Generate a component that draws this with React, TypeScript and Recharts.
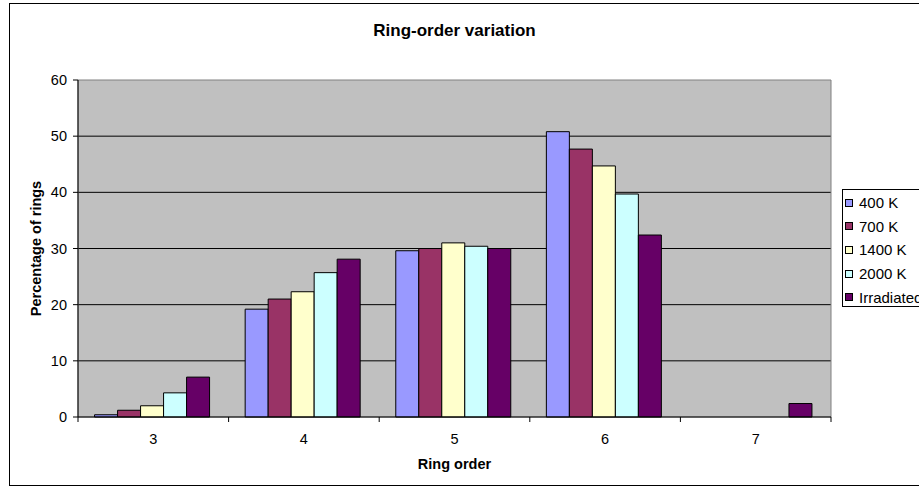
import React from 'react';
import { BarChart, Bar, XAxis, YAxis, CartesianGrid, ReferenceArea } from 'recharts';

const ringOrders = ['3', '4', '5', '6', '7'];
const k400 = [0.4, 19.2, 29.6, 50.8, 0];
const k700 = [1.2, 21.0, 30.0, 47.7, 0];
const k1400 = [2.0, 22.3, 31.0, 44.7, 0];
const k2000 = [4.3, 25.7, 30.4, 39.7, 0];
const irradiated = [7.1, 28.1, 30.0, 32.4, 2.4];
const yTicks = [0, 10, 20, 30, 40, 50, 60];

const series = [
  { key: 'k400', name: '400 K', color: '#9999FF', values: k400 },
  { key: 'k700', name: '700 K', color: '#993366', values: k700 },
  { key: 'k1400', name: '1400 K', color: '#FFFFCC', values: k1400 },
  { key: 'k2000', name: '2000 K', color: '#CCFFFF', values: k2000 },
  { key: 'irr', name: 'Irradiated', color: '#660066', values: irradiated },
];

const data = ringOrders.map((order, i) => {
  const row: Record<string, string | number> = { order };
  series.forEach(s => { row[s.key] = s.values[i]; });
  return row;
});

const FONT = 'Arial, "Liberation Sans", sans-serif';
const TICK_MARGIN = 17;

// category label plus Excel-style tick marks on the band edges
const EdgeTick = (props: any) => {
  const { x, y, payload, index, visibleTicksCount } = props;
  const half = payload.offset ?? 75;
  const axisY = y - TICK_MARGIN;
  const last = index === visibleTicksCount - 1;
  return (
    <g>
      <line x1={x - half} x2={x - half} y1={axisY} y2={axisY + 5} stroke="#000" />
      {last && <line x1={x + half} x2={x + half} y1={axisY} y2={axisY + 5} stroke="#000" />}
      <text x={x} y={y} dy="0.71em" textAnchor="middle" fontSize={14.5} fontFamily={FONT} fill="#000">
        {payload.value}
      </text>
    </g>
  );
};

// legend box sits to the right of the plot, running off the frame edge
const LegendBox = () => (
  <div style={{ position: 'absolute', left: 842, top: 189, width: 90, height: 118, border: '1px solid #000', background: '#fff', boxSizing: 'border-box', padding: '1px 0 0 2px', fontFamily: FONT, fontSize: 15 }}>
    {series.map(s => (
      <div key={s.key} style={{ display: 'flex', alignItems: 'center', height: 23.6, whiteSpace: 'nowrap' }}>
        <span style={{ display: 'inline-block', width: 6, height: 6, border: '1px solid #000', background: s.color, marginRight: 6 }} />
        <span>{s.name}</span>
      </div>
    ))}
  </div>
);

export default function App() {
  return (
    <div style={{ position: 'absolute', left: 0, top: 0, width: 919, height: 488, background: '#fff', overflow: 'hidden' }}>
      <div style={{ position: 'absolute', left: 9, top: 3, width: 930, height: 481, border: '1px solid #000' }} />
      <div style={{ position: 'absolute', left: 78, width: 753, top: 21, textAlign: 'center', fontFamily: FONT, fontWeight: 'bold', fontSize: 17 }}>
        Ring-order variation
      </div>
      <BarChart
        width={919}
        height={488}
        data={data}
        margin={{ top: 80, right: 88, bottom: 0, left: 0 }}
        barCategoryGap="11%"
        barGap={0}
        style={{ position: 'absolute', left: 0, top: 0 }}
      >
        <CartesianGrid fill="#C0C0C0" stroke="#000" vertical={false} horizontalValues={[10, 20, 30, 40, 50]} />
        <ReferenceArea y1={0} y2={60} fill="none" stroke="#808080" strokeWidth={1} />
        <XAxis
          dataKey="order"
          height={71}
          axisLine={{ stroke: '#000' }}
          tickLine={false}
          tickSize={0}
          tickMargin={TICK_MARGIN}
          tick={<EdgeTick />}
          interval={0}
          label={{ value: 'Ring order', position: 'insideBottom', offset: 19, fontSize: 14.5, fontWeight: 'bold', fontFamily: FONT, fill: '#000' }}
        />
        <YAxis
          width={78}
          domain={[0, 60]}
          ticks={yTicks}
          interval={0}
          axisLine={{ stroke: '#000' }}
          tickLine={{ stroke: '#000' }}
          tickSize={5}
          tickMargin={6}
          tick={{ fontSize: 14.5, fontFamily: FONT, fill: '#000' }}
          label={{ value: 'Percentage of rings', angle: -90, position: 'center', dx: -3, fontSize: 14.5, fontWeight: 'bold', fontFamily: FONT, fill: '#000' }}
        />
        {series.map(s => (
          <Bar key={s.key} dataKey={s.key} name={s.name} fill={s.color} stroke="#000" strokeWidth={1} isAnimationActive={false} />
        ))}
      </BarChart>
      <LegendBox />
    </div>
  );
}
